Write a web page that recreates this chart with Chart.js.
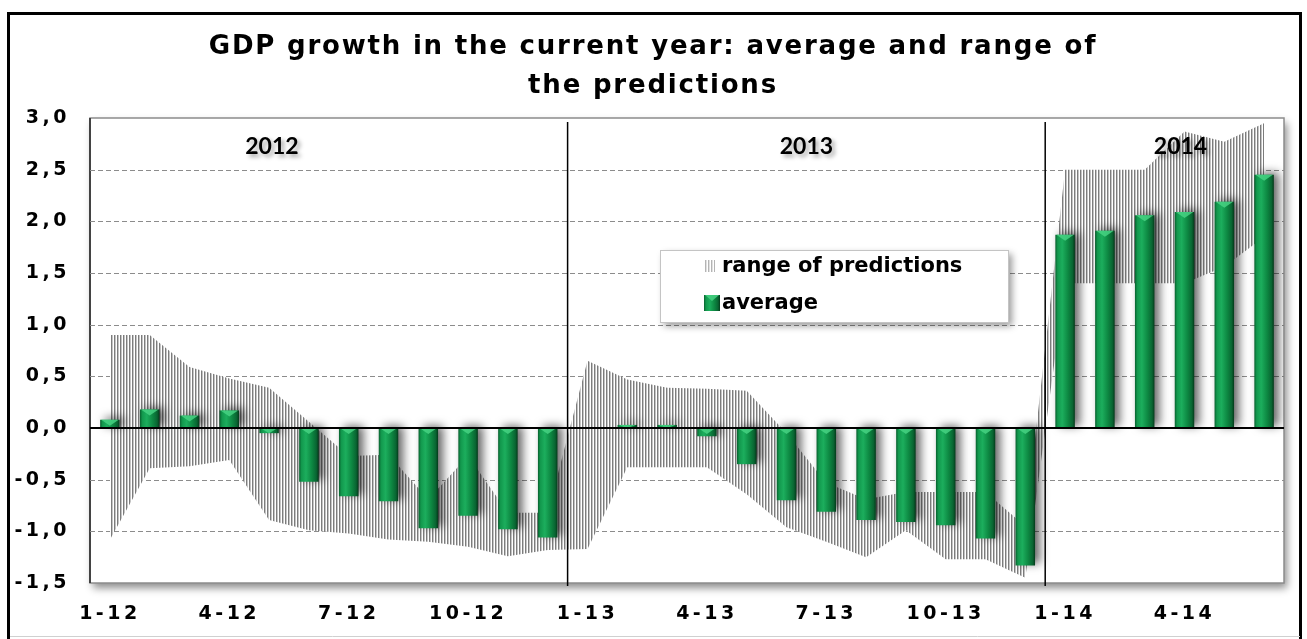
<!DOCTYPE html>
<html>
<head>
<meta charset="utf-8">
<title>GDP growth forecasts</title>
<script src="https://cdn.jsdelivr.net/npm/chart.js@4.4.1/dist/chart.umd.min.js"></script>
<style>
  html, body { margin: 0; padding: 0; background: #fff; }
  #wrap { position: relative; width: 1307px; height: 639px; }
</style>
</head>
<body>
<div id="wrap"><canvas id="gdpChart" width="1307" height="639"></canvas></div>
<script>
// survey months, "month-year"
const months = [
  '1-12','2-12','3-12','4-12','5-12','6-12','7-12','8-12','9-12','10-12','11-12','12-12',
  '1-13','2-13','3-13','4-13','5-13','6-13','7-13','8-13','9-13','10-13','11-13','12-13',
  '1-14','2-14','3-14','4-14','5-14','6-14'
];
const years = ['2012', '2013', '2014'];

// average forecast
const average = [
  0.08, 0.18, 0.12, 0.17, -0.05, -0.52, -0.66, -0.71, -0.97, -0.85, -0.98, -1.06,
  0.00, 0.03, 0.03, -0.08, -0.35, -0.70, -0.81, -0.89, -0.91, -0.94, -1.07, -1.33,
  1.87, 1.91, 2.06, 2.09, 2.19, 2.45
];
// highest and lowest forecast
const rangeHigh = [
  0.90, 0.90, 0.59, 0.48, 0.39, 0.06, -0.27, -0.26, -0.69, -0.27, -0.82, -0.82,
  0.65, 0.47, 0.39, 0.38, 0.36, -0.05, -0.53, -0.69, -0.62, -0.62, -0.62, -0.95,
  2.50, 2.50, 2.50, 2.87, 2.77, 2.95
];
const rangeLow = [
  -1.08, -0.39, -0.37, -0.31, -0.89, -0.99, -1.02, -1.08, -1.10, -1.15, -1.24, -1.18,
  -1.17, -0.38, -0.38, -0.38, -0.64, -0.96, -1.10, -1.25, -0.99, -1.27, -1.27, -1.45,
  1.40, 1.40, 1.40, 1.40, 1.56, 1.85
];

const yMin = -1.5, yMax = 3.0, yStep = 0.5;

Chart.defaults.font.family = '"DejaVu Sans", Verdana, sans-serif';
Chart.defaults.color = '#000';

const canvas = document.getElementById('gdpChart');
const ctx0 = canvas.getContext('2d');

// vertical hatching for the range band
function makeHatch(ctx, light) {
  const c = document.createElement('canvas');
  c.width = 3; c.height = 4;
  const g = c.getContext('2d');
  g.fillStyle = '#ffffff';
  g.fillRect(0, 0, 3, 4);
  g.fillStyle = light ? '#b4b4b4' : '#7c7c7c';
  g.fillRect(0, 0, 1, 4);
  g.fillStyle = light ? '#e0e0e0' : '#c4c4c4';
  g.fillRect(1, 0, 1, 4);
  return ctx.createPattern(c, 'repeat');
}
const hatch = makeHatch(ctx0, false);

const BAR_PCT = 0.49;

function greenGradient(ctx, l, r) {
  const g = ctx.createLinearGradient(l, 0, r, 0);
  g.addColorStop(0, '#08602e');
  g.addColorStop(0.12, '#12984d');
  g.addColorStop(0.35, '#1cae5d');
  g.addColorStop(0.65, '#0d8842');
  g.addColorStop(0.88, '#096532');
  g.addColorStop(1, '#043a1a');
  return g;
}

function barFill(context) {
  const chart = context.chart;
  const xs = chart.scales.x;
  if (!chart.chartArea || !xs || xs.width === undefined) return '#0f8d45';
  const cx = xs.getPixelForValue(context.dataIndex);
  const w = xs.width / months.length * BAR_PCT;
  return greenGradient(chart.ctx, cx - w / 2, cx + w / 2);
}

const chartDecor = {
  id: 'chartDecor',
  beforeDraw(chart) {
    const { ctx, chartArea: ca, width, height } = chart;
    ctx.save();
    ctx.fillStyle = '#fff';
    ctx.fillRect(0, 0, width, height);
    // outer frame
    ctx.strokeStyle = '#000';
    ctx.lineWidth = 3;
    ctx.strokeRect(8.5, 13.5, width - 15, height + 20);
    ctx.strokeStyle = '#d0d0d0';
    ctx.lineWidth = 1;
    ctx.beginPath(); ctx.moveTo(10, 636.5); ctx.lineTo(width - 7, 636.5); ctx.stroke();
    // plot area with soft shadow
    ctx.shadowColor = 'rgba(0,0,0,0.45)';
    ctx.shadowBlur = 8;
    ctx.shadowOffsetX = 3;
    ctx.shadowOffsetY = 5;
    ctx.fillStyle = '#fff';
    ctx.fillRect(ca.left, ca.top, ca.width, ca.height);
    ctx.restore();
    ctx.save();
    ctx.strokeStyle = '#8c8c8c';
    ctx.lineWidth = 1.5;
    ctx.strokeRect(ca.left, ca.top, ca.width, ca.height);
    ctx.strokeStyle = '#222';
    ctx.beginPath(); ctx.moveTo(ca.left, ca.top); ctx.lineTo(ca.left, ca.bottom); ctx.stroke();
    ctx.restore();
    // wide spacing for axis labels
    ctx.letterSpacing = '3.5px';
  },
  beforeDatasetsDraw(chart) {
    const { ctx, chartArea: ca, scales: { y } } = chart;
    ctx.letterSpacing = '0px';
    ctx.save();
    ctx.strokeStyle = '#8c8c8c';
    ctx.lineWidth = 1;
    ctx.setLineDash([5, 3]);
    y.ticks.forEach(t => {
      if (t.value === 0 || t.value === yMax || t.value === yMin) return;
      const py = Math.round(y.getPixelForValue(t.value)) + 0.5;
      ctx.beginPath(); ctx.moveTo(ca.left, py); ctx.lineTo(ca.right, py); ctx.stroke();
    });
    ctx.restore();
  },
  beforeDatasetDraw(chart, args) {
    if (args.meta.type !== 'bar') return;
    const ctx = chart.ctx;
    ctx.save();
    ctx.shadowColor = 'rgba(0,0,0,0.6)';
    ctx.shadowBlur = 10;
    ctx.shadowOffsetX = 5;
    ctx.shadowOffsetY = -2;
  },
  afterDatasetDraw(chart, args) {
    if (args.meta.type !== 'bar') return;
    const ctx = chart.ctx;
    ctx.restore();
    // light bevel at the top of each bar
    ctx.save();
    args.meta.data.forEach(bar => {
      const p = bar.getProps(['x', 'y', 'base', 'width'], true);
      const top = Math.min(p.y, p.base);
      const h = Math.abs(p.base - p.y);
      if (h < 1) return;
      const d = Math.min(6, h);
      ctx.fillStyle = 'rgba(70,210,130,0.85)';
      ctx.beginPath();
      ctx.moveTo(p.x - p.width / 2 + 1, top);
      ctx.lineTo(p.x + p.width / 2 - 1, top);
      ctx.lineTo(p.x, top + d);
      ctx.closePath();
      ctx.fill();
    });
    ctx.restore();
  },
  afterDatasetsDraw(chart) {
    const { ctx, chartArea: ca, scales: { x, y } } = chart;
    ctx.save();
    // zero line
    const y0 = y.getPixelForValue(0);
    ctx.strokeStyle = '#000';
    ctx.lineWidth = 2;
    ctx.beginPath(); ctx.moveTo(ca.left, y0); ctx.lineTo(ca.right, y0); ctx.stroke();
    // year separators, where the year suffix changes
    ctx.lineWidth = 1.5;
    for (let i = 1; i < months.length; i++) {
      if (months[i].split('-')[1] !== months[i - 1].split('-')[1]) {
        const px = (x.getPixelForValue(i - 1) + x.getPixelForValue(i)) / 2;
        ctx.beginPath(); ctx.moveTo(px, ca.top + 4); ctx.lineTo(px, ca.bottom + 3); ctx.stroke();
      }
    }
    // year captions
    const captionAt = [4.07, 17.5, 26.9];
    ctx.font = 'bold 23px Lato, "DejaVu Sans", sans-serif';
    ctx.textAlign = 'center';
    ctx.textBaseline = 'middle';
    ctx.fillStyle = '#000';
    ctx.shadowColor = 'rgba(0,0,0,0.35)';
    ctx.shadowBlur = 4;
    ctx.shadowOffsetX = 3;
    ctx.shadowOffsetY = 3;
    years.forEach((yr, k) => {
      ctx.fillText(yr, x.getPixelForValue(captionAt[k]), y.getPixelForValue(2.72));
    });
    ctx.restore();
  },
  afterDraw(chart) {
    const { ctx, chartArea: ca } = chart;
    ctx.save();
    // title
    ctx.letterSpacing = '1.8px';
    ctx.font = 'bold 26px "DejaVu Sans", sans-serif';
    ctx.textAlign = 'center';
    ctx.textBaseline = 'middle';
    ctx.fillStyle = '#000';
    ctx.fillText('GDP growth in the current year: average and range of', 653, 47);
    ctx.fillText('the predictions', 653, 86);
    ctx.letterSpacing = '0px';

    // legend box
    const lx = ca.left + 570, ly = ca.top + 132, lw = 348, lh = 72;
    ctx.save();
    ctx.shadowColor = 'rgba(0,0,0,0.4)';
    ctx.shadowBlur = 7;
    ctx.shadowOffsetX = 4;
    ctx.shadowOffsetY = 4;
    ctx.fillStyle = '#fff';
    ctx.fillRect(lx, ly, lw, lh);
    ctx.restore();
    ctx.strokeStyle = '#c4c4c4';
    ctx.lineWidth = 1;
    ctx.strokeRect(lx + 0.5, ly + 0.5, lw, lh);

    const sets = chart.data.datasets;
    const rangeSet = sets[1], avgSet = sets[0];
    ctx.font = 'bold 21px "DejaVu Sans", sans-serif';
    ctx.textAlign = 'left';
    // hatch swatch
    ctx.fillStyle = makeHatch(ctx, true);
    ctx.fillRect(lx + 45, ly + 10, 10, 12);
    ctx.fillStyle = '#000';
    ctx.fillText(rangeSet.label, lx + 62, ly + 17);
    // green swatch
    ctx.fillStyle = greenGradient(ctx, lx + 44, lx + 60);
    ctx.fillRect(lx + 44, ly + 45, 16, 16);
    ctx.fillStyle = 'rgba(70,210,130,0.85)';
    ctx.beginPath(); ctx.moveTo(lx + 45, ly + 45); ctx.lineTo(lx + 59, ly + 45); ctx.lineTo(lx + 52, ly + 51); ctx.fill();
    ctx.fillStyle = '#000';
    ctx.fillText(avgSet.label, lx + 62, ly + 54);
    ctx.restore();
  }
};

new Chart(canvas, {
  data: {
    labels: months,
    datasets: [
      {
        type: 'bar',
        label: 'average',
        data: average,
        backgroundColor: barFill,
        borderWidth: 0,
        barPercentage: BAR_PCT,
        categoryPercentage: 1,
        order: 0
      },
      {
        type: 'line',
        label: 'range of predictions',
        data: rangeHigh,
        fill: '+1',
        backgroundColor: hatch,
        borderWidth: 0,
        pointRadius: 0,
        tension: 0,
        order: 1
      },
      {
        type: 'line',
        label: 'low',
        data: rangeLow,
        fill: false,
        borderWidth: 0,
        pointRadius: 0,
        tension: 0,
        order: 2
      }
    ]
  },
  options: {
    responsive: false,
    animation: false,
    layout: { padding: { top: 118, left: 10, right: 23, bottom: 0 } },
    plugins: {
      legend: { display: false },
      title: { display: false },
      tooltip: { enabled: false }
    },
    scales: {
      x: {
        grid: { display: false, drawTicks: false },
        border: { display: false },
        ticks: {
          autoSkip: false,
          maxRotation: 0,
          padding: 20,
          font: { size: 19, weight: 'bold' },
          callback: (v, i) => (i % 3 === 0 ? months[i] : '')
        },
        afterFit: s => { s.height = 56; }
      },
      y: {
        min: yMin,
        max: yMax,
        grid: { display: false, drawTicks: false },
        border: { display: false },
        ticks: {
          stepSize: yStep,
          padding: 20,
          font: { size: 19, weight: 'bold' },
          callback: v => v.toFixed(1).replace('.', ',')
        },
        afterFit: s => { s.width = 80; }
      }
    }
  },
  plugins: [chartDecor]
});
</script>
</body>
</html>
